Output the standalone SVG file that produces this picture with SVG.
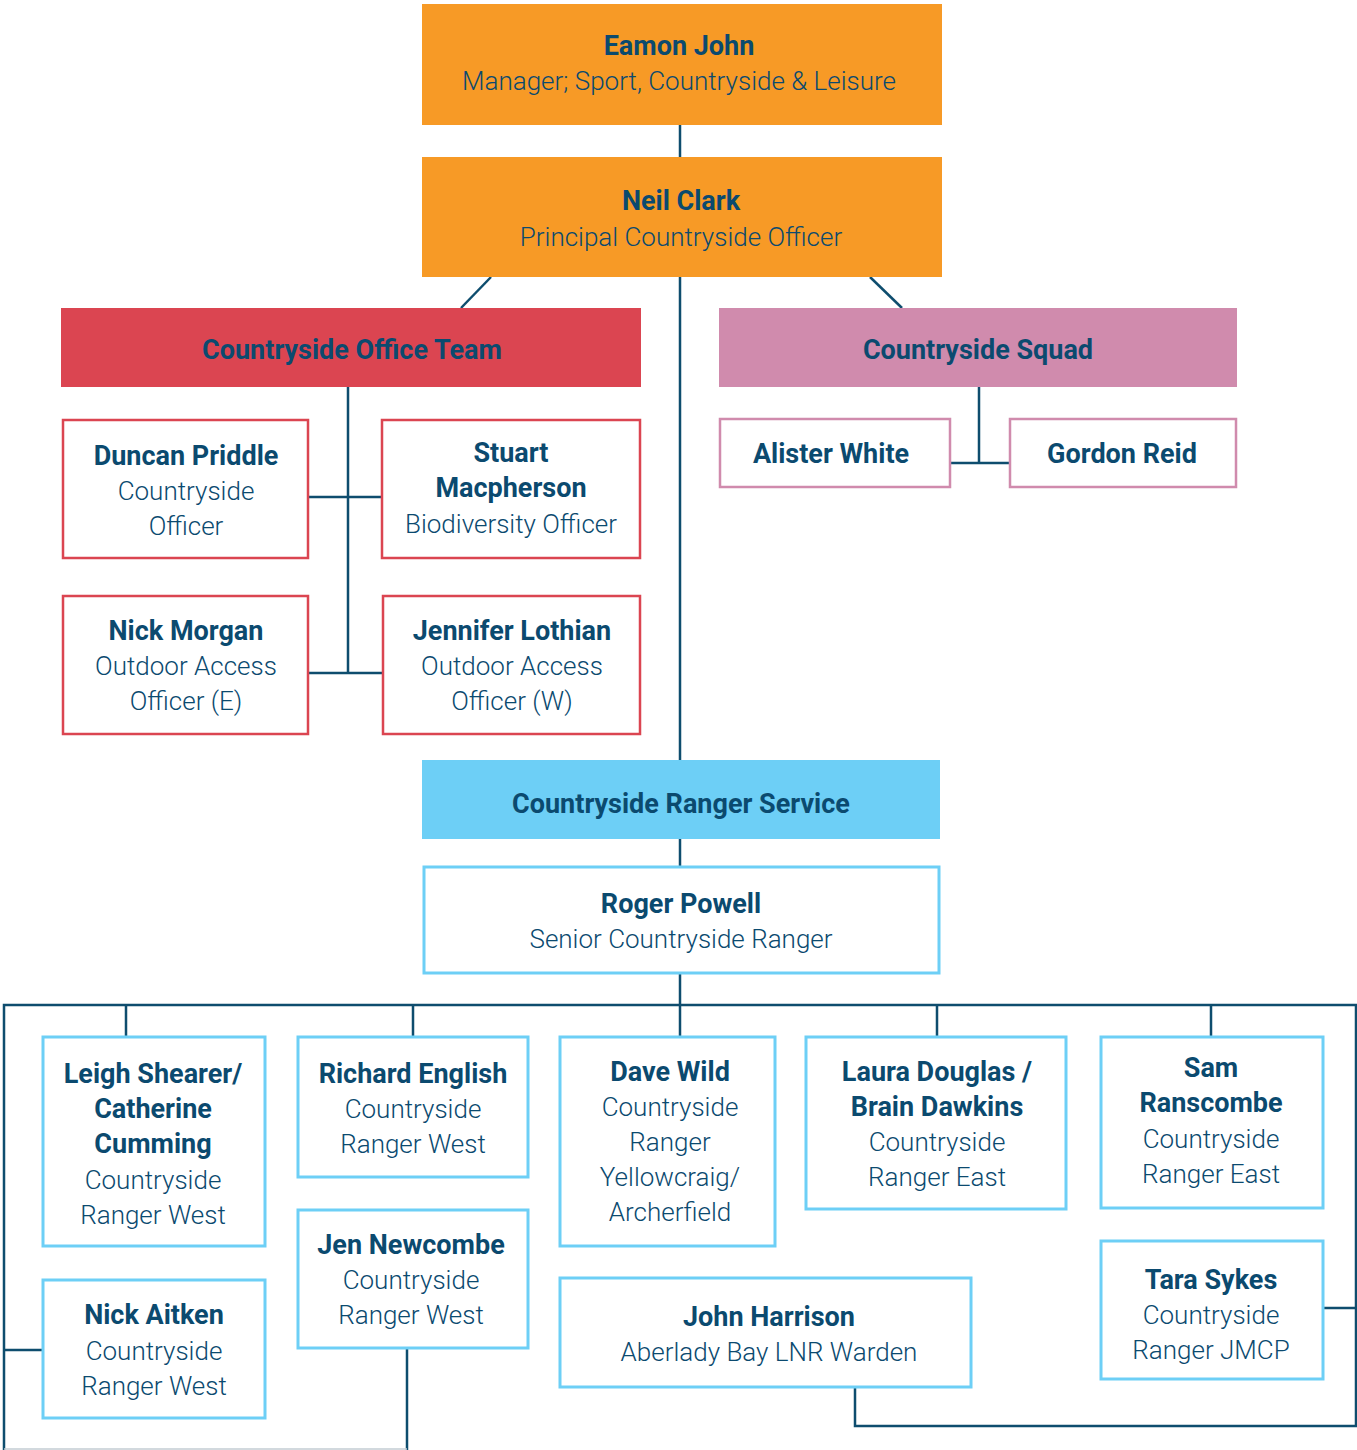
<svg xmlns="http://www.w3.org/2000/svg" width="1357" height="1450" viewBox="0 0 1357 1450">
<style>
text{font-family:Roboto,"Liberation Sans",sans-serif;fill:#0B4A6F;text-anchor:middle}
.n{font-weight:700;font-size:27px}
.r{font-weight:300;font-size:26px}
.or{fill:#F79A26}
.rd{fill:#DB4551}
.pk{fill:#D08BAD}
.lb{fill:#6DCFF6}
.bred{fill:#fff;stroke:#DB4551;stroke-width:2.5}
.bpk{fill:#fff;stroke:#D08BAD;stroke-width:2.5}
.bbl{fill:#fff;stroke:#6DCFF6;stroke-width:3}
.c{fill:none;stroke:#0E4D6E;stroke-width:2.5}
</style>
<rect width="1357" height="1450" fill="#fff"/>
<g id="connectors" class="c">
<path d="M680 125V157"/>
<path d="M491 277L461 308"/>
<path d="M870 277L902 308"/>
<path d="M680 277V760"/>
<path d="M348 387V673M308 497H383M308 673H383"/>
<path d="M979 387V463M950 463H1010"/>
<path d="M680 839V867"/>
<path d="M680 973V1037"/>
<path d="M4 1450V1005H1356V1426H855V1387"/>
<path d="M126 1005V1037M413 1005V1037M937 1005V1037M1211 1005V1037"/>
<path d="M4 1350H43"/>
<path d="M407 1348V1450"/>
<path d="M1323 1308H1356"/>
</g>
<path d="M4 1449H407" stroke="#C3CDD3" stroke-width="1.5"/>
<g id="eamon"><rect class="or" x="422" y="4" width="520" height="121"/>
<text class="n" x="679" y="55">Eamon John</text><text class="r" x="679" y="90">Manager; Sport, Countryside &amp; Leisure</text></g>
<g id="neil"><rect class="or" x="422" y="157" width="520" height="120"/>
<text class="n" x="681" y="210">Neil Clark</text><text class="r" x="681" y="246">Principal Countryside Officer</text></g>
<g id="office-team"><rect class="rd" x="61" y="308" width="580" height="79"/>
<text class="n" x="352" y="359">Countryside Office Team</text></g>
<g id="squad"><rect class="pk" x="719" y="308" width="518" height="79"/>
<text class="n" x="978" y="359">Countryside Squad</text></g>
<g id="duncan"><rect class="bred" x="63" y="420" width="245" height="138"/>
<text class="n" x="186" y="465">Duncan Priddle</text><text class="r" x="186" y="500">Countryside</text><text class="r" x="186" y="535">Officer</text></g>
<g id="stuart"><rect class="bred" x="382" y="420" width="258" height="138"/>
<text class="n" x="511" y="462">Stuart</text><text class="n" x="511" y="497">Macpherson</text><text class="r" x="511" y="533">Biodiversity Officer</text></g>
<g id="nick-morgan"><rect class="bred" x="63" y="596" width="245" height="138"/>
<text class="n" x="186" y="640">Nick Morgan</text><text class="r" x="186" y="675">Outdoor Access</text><text class="r" x="186" y="710">Officer (E)</text></g>
<g id="jennifer"><rect class="bred" x="383" y="596" width="257" height="138"/>
<text class="n" x="512" y="640">Jennifer Lothian</text><text class="r" x="512" y="675">Outdoor Access</text><text class="r" x="512" y="710">Officer (W)</text></g>
<g id="alister"><rect class="bpk" x="720" y="419" width="230" height="68"/>
<text class="n" x="831" y="463">Alister White</text></g>
<g id="gordon"><rect class="bpk" x="1010" y="419" width="226" height="68"/>
<text class="n" x="1122" y="463">Gordon Reid</text></g>
<g id="ranger-service"><rect class="lb" x="422" y="760" width="518" height="79"/>
<text class="n" x="681" y="813">Countryside Ranger Service</text></g>
<g id="roger"><rect class="bbl" x="424" y="867" width="515" height="106"/>
<text class="n" x="681" y="913">Roger Powell</text><text class="r" x="681" y="948">Senior Countryside Ranger</text></g>
<g id="leigh"><rect class="bbl" x="43" y="1037" width="222" height="209"/>
<text class="n" x="153" y="1083">Leigh Shearer/</text><text class="n" x="153" y="1118">Catherine</text><text class="n" x="153" y="1153">Cumming</text><text class="r" x="153" y="1189">Countryside</text><text class="r" x="153" y="1224">Ranger West</text></g>
<g id="richard"><rect class="bbl" x="298" y="1037" width="230" height="140"/>
<text class="n" x="413" y="1083">Richard English</text><text class="r" x="413" y="1118">Countryside</text><text class="r" x="413" y="1153">Ranger West</text></g>
<g id="dave"><rect class="bbl" x="560" y="1037" width="215" height="209"/>
<text class="n" x="670" y="1081">Dave Wild</text><text class="r" x="670" y="1116">Countryside</text><text class="r" x="670" y="1151">Ranger</text><text class="r" x="670" y="1186">Yellowcraig/</text><text class="r" x="670" y="1221">Archerfield</text></g>
<g id="laura"><rect class="bbl" x="806" y="1037" width="260" height="172"/>
<text class="n" x="937" y="1081">Laura Douglas /</text><text class="n" x="937" y="1116">Brain Dawkins</text><text class="r" x="937" y="1151">Countryside</text><text class="r" x="937" y="1186">Ranger East</text></g>
<g id="sam"><rect class="bbl" x="1101" y="1037" width="222" height="171"/>
<text class="n" x="1211" y="1077">Sam</text><text class="n" x="1211" y="1112">Ranscombe</text><text class="r" x="1211" y="1148">Countryside</text><text class="r" x="1211" y="1183">Ranger East</text></g>
<g id="nick-aitken"><rect class="bbl" x="43" y="1280" width="222" height="138"/>
<text class="n" x="154" y="1324">Nick Aitken</text><text class="r" x="154" y="1360">Countryside</text><text class="r" x="154" y="1395">Ranger West</text></g>
<g id="jen"><rect class="bbl" x="298" y="1210" width="230" height="138"/>
<text class="n" x="411" y="1254">Jen Newcombe</text><text class="r" x="411" y="1289">Countryside</text><text class="r" x="411" y="1324">Ranger West</text></g>
<g id="john"><rect class="bbl" x="560" y="1278" width="411" height="109"/>
<text class="n" x="769" y="1326">John Harrison</text><text class="r" x="769" y="1361">Aberlady Bay LNR Warden</text></g>
<g id="tara"><rect class="bbl" x="1101" y="1241" width="222" height="138"/>
<text class="n" x="1211" y="1289">Tara Sykes</text><text class="r" x="1211" y="1324">Countryside</text><text class="r" x="1211" y="1359">Ranger JMCP</text></g>
</svg>
